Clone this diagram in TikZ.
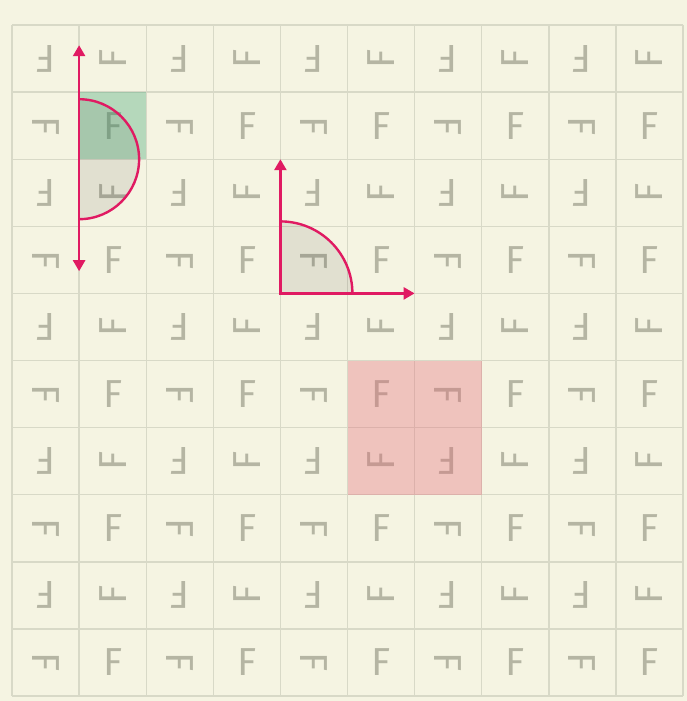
\documentclass[tikz,border=0pt]{standalone}
\usepackage{fontspec}
\setmainfont{Fira Sans}
\usetikzlibrary{arrows.meta,calc}
\definecolor{bg}{HTML}{F5F4E2}
\definecolor{gridc}{HTML}{D8D9C7}
\definecolor{letterc}{HTML}{B5B5A3}
\definecolor{accent}{HTML}{E01A62}
\definecolor{greenc}{RGB}{62,164,117}
\definecolor{redc}{RGB}{228,104,120}
\begin{document}
\begin{tikzpicture}[x=1pt,y=-1pt,
  letter/.style={text=letterc,font=\fontsize{39}{39}\selectfont,inner sep=0pt},
  gridline/.style={draw=gridc,line width=1.4pt},
  tipstyle/.style={line width=2.5pt,draw=accent},
  arcline/.style={draw=accent,line width=2.4pt},
  shadefill/.style={fill=black,fill opacity=0.08}]
\useasboundingbox[fill=bg] (0,0) rectangle (687,701);
\def\cs{67.1}
% grid
\foreach \i in {0,...,10} {
  \draw[gridline] ({12+\i*\cs},25) -- ({12+\i*\cs},{25+10*\cs});
  \draw[gridline] (12,{25+\i*\cs}) -- ({12+10*\cs},{25+\i*\cs});
}
% letters
\foreach \r in {0,...,9} {
  \foreach \c in {0,...,9} {
    \pgfmathsetmacro\ang{ifthenelse(mod(\r,2)==0, ifthenelse(mod(\c,2)==0,180,90), ifthenelse(mod(\c,2)==0,270,0))}
    \node[letter,rotate=\ang] (L\r-\c) at ({12+(\c+0.5)*\cs},{25+(\r+0.5)*\cs}) {F};
  }
}
% highlighted cells
\fill[greenc,fill opacity=0.35] ({12+\cs},{25+\cs}) rectangle ({12+2*\cs},{25+2*\cs});
\fill[redc,fill opacity=0.35] ({12+5*\cs},{25+5*\cs}) rectangle ({12+7*\cs},{25+7*\cs});
% semicircle (reflection axis)
\coordinate (sc) at ({12+\cs},{25+2*\cs});
\coordinate (vt) at ($(sc)+(0,-114)$);
\coordinate (vb) at ($(sc)+(0,112)$);
\fill[shadefill] ($(sc)+(0,-60)$) arc[start angle=-90,end angle=90,radius=60] -- cycle;
\draw[arcline] ($(sc)+(0,-60)$) arc[start angle=-90,end angle=90,radius=60];
\draw[tipstyle,{Triangle[length=11pt,width=12pt]}-{Triangle[length=11pt,width=12pt]}] (vt) -- (vb);
% quarter circle (rotation)
\coordinate (qc) at ({12+4*\cs},{25+4*\cs});
\coordinate (qt) at ($(qc)+(0,{-2*\cs})$);
\coordinate (qr) at ($(qc)+({2*\cs},0)$);
\fill[shadefill] (qc) -- ($(qc)+(0,-72)$) arc[start angle=-90,end angle=0,radius=72] -- cycle;
\draw[arcline] ($(qc)+(0,-72)$) arc[start angle=-90,end angle=0,radius=72];
\draw[tipstyle,{Triangle[length=11pt,width=12pt]}-{Triangle[length=11pt,width=12pt]}] (qt) -- (qc) -- (qr);
\end{tikzpicture}
\end{document}
